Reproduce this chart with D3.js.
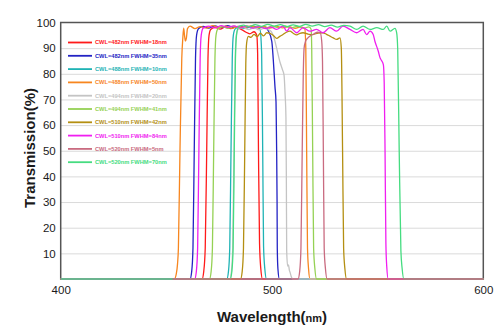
<!DOCTYPE html>
<html><head><meta charset="utf-8">
<script src="https://cdn.jsdelivr.net/npm/d3@7"></script>
<style>
html,body{margin:0;padding:0;background:#fff;}
svg{display:block;}
</style></head>
<body>
<svg id="chart" width="500" height="334"></svg>
<script>
// ---- data (wavelength nm, transmission %) ----
const xTicks = [400, 500, 600];
const yTicks = [10, 20, 30, 40, 50, 60, 70, 80, 90, 100];
const legendLabels = [
  "CWL=482nm FWHM=18nm","CWL=482nm FWHM=35nm","CWL=488nm FWHM=10nm","CWL=488nm FWHM=50nm",
  "CWL=494nm FWHM=20nm","CWL=494nm FWHM=41nm","CWL=510nm FWHM=42nm","CWL=510nm FWHM=84nm",
  "CWL=520nm FWHM=5nm","CWL=520nm FWHM=70nm"
];
const colors = ["#ff1a1a","#2323c4","#1fb3b5","#f7861f","#c4c4c4","#95d154","#b48f12","#f01ef0","#c96b80","#45dc80"];

const s482_18 = [[400,0],[466.9,0],[467.7,3],[468.4,12],[469.1,50],[469.7,86],[470.2,95],[471,97.3],[473,98.1],[475.5,97.4],[478,98.3],[480.5,97.6],[483,98.4],[485.5,97.3],[487.5,96.3],[489.5,95.6],[491.5,96.4],[492.8,95],[493.2,88],[493.6,50],[494.1,14],[494.7,4],[495.5,0],[600,0]];
const s482_35 = [[400,0],[461.2,0],[462.0,3],[462.6,12],[463.2,50],[463.8,86],[464.3,95],[465.2,97.6],[467.5,98.5],[470,97.8],[473,98.7],[476,98],[479,98.8],[482,98.1],[485,98.6],[488,97.9],[491,98.6],[494,98],[496.5,98.3],[498.1,97],[499.9,92.6],[500.6,85.6],[501.4,75],[501.9,69],[502.05,60],[502.2,50],[502.4,30],[502.5,12],[502.8,4],[503.5,0],[600,0]];
const s488_10 = [[400,0],[478.6,0],[479.4,3],[480.0,12],[480.6,50],[481.2,86],[481.7,95],[482.6,97.5],[484.5,98.3],[486.5,97.6],[488.5,98.4],[490.5,97.7],[492.5,98.2],[494.3,97.4],[495.1,88],[495.6,50],[496.0,13],[496.6,4],[497.4,0],[600,0]];
const s488_50 = [[400,0],[453.8,0],[454.7,2],[455.3,6],[455.7,12],[456.45,50],[457.3,86],[457.8,94],[458.2,97.8],[458.6,95],[459.0,92.8],[459.5,94],[460.0,97.6],[461.2,98.6],[463.5,97.6],[466,98.4],[469,97.8],[472,98.8],[475,98],[478,98.6],[481,97.7],[484,98.5],[487,98],[490,98.7],[493,97.9],[496,98.5],[499,97.8],[502,98.6],[505,97.9],[508,98.4],[511,97.7],[513.5,98.3],[515.5,97.6],[516.0,90],[516.4,50],[516.8,12],[517.3,4],[518.0,0],[600,0]];
const s494_20 = [[400,0],[480.0,0],[480.8,3],[481.4,12],[482.0,50],[482.6,86],[483.1,95],[484.0,97.3],[486.5,98],[489,97.2],[491.5,97.9],[494,97.1],[496.5,97.8],[498.5,97.2],[499.6,96.5],[500.8,94.5],[502.2,90],[503.8,84.5],[505.0,81.5],[505.7,79.5],[506.2,72],[506.6,63],[506.8,38],[506.95,11],[507.4,5],[507.8,5.5],[508.2,3.5],[508.6,2.5],[509.1,1],[509.8,0],[600,0]];
const s494_41 = [[400,0],[470.4,0],[471.2,3],[471.8,12],[472.4,50],[473.0,86],[473.5,95],[474.4,97.6],[476.5,98.4],[479,97.7],[482,98.6],[485,97.9],[488,98.7],[491,98],[494,98.5],[497,97.8],[500,98.6],[503,98],[506,98.7],[509,97.9],[512,98.5],[515,97.8],[517.5,98.3],[518.5,97.4],[518.8,90],[519.25,50],[519.7,12],[520.3,4],[521.1,0],[600,0]];
const s510_42 = [[400,0],[485.1,0],[485.9,3],[486.5,12],[487.1,50],[487.6,84],[488.0,92],[488.8,94.6],[490,94.2],[491.5,95.4],[493,94.5],[494.5,95.8],[496,94.8],[497.5,96],[499.1,95.8],[500.8,94.8],[502.2,93.8],[503.7,94.6],[505.2,95.3],[506.8,96.2],[508.5,96.6],[510,95.8],[511.7,95.2],[513.2,95.8],[514.7,96],[517,95.5],[519.4,95.3],[521.8,95.9],[524.1,96],[525.8,95.4],[527.4,94.7],[529,94],[530.6,93.4],[532.2,94],[532.8,90],[533.4,50],[533.9,12],[534.5,4],[535.3,0],[600,0]];
const s510_84 = [[400,0],[463.4,0],[464.2,3],[464.8,12],[465.4,50],[466.0,86],[466.5,95],[467.4,97.8],[470,98.6],[473,97.9],[476,98.8],[479,98.1],[482,98.7],[485,97.9],[488,98.6],[491,97.8],[494,98.5],[497,97.6],[499.5,98.2],[502.2,97.3],[505.2,98.6],[507,96.6],[508.5,98],[511.7,96],[514.7,98],[517.9,96.6],[521.1,97.3],[524.1,96],[527.4,98],[530.6,96.6],[533.6,98.6],[536.9,97.3],[540.1,96],[543.1,97.3],[544.8,95.3],[546.4,96.6],[547.9,95.3],[548.7,92.7],[550.3,88.8],[551.1,86.3],[551.6,85.5],[552.7,83.6],[553.1,76.6],[553.5,50],[553.9,14],[554.3,5],[555,0],[600,0]];
const s520_5 = [[453,0],[512.3,0],[513.1,3],[513.7,12],[514.3,50],[514.8,80],[515.2,90],[515.8,92.5],[517,94],[518.5,95],[520,95.6],[521.5,96.2],[522.8,96],[523.5,93],[523.9,85],[524.3,50],[524.7,12],[525.3,4],[526.1,0],[600,0]];
const s520_70 = [[400,0],[480.2,0],[481.0,3],[481.6,12],[482.15,50],[482.7,86],[483.2,95],[484.1,98.2],[486.5,99],[489,98.3],[492,99.2],[495,98.5],[498,99.3],[501,98.6],[504,99.2],[507,98.4],[510,99.1],[513,98.5],[516,99.3],[519,98.6],[522,99.2],[525,98.4],[528,99],[531,98.2],[534,98.9],[536.9,98.6],[540.1,97.3],[543.1,98.6],[546.4,97.3],[549.6,98],[552.7,97.3],[554.3,98.6],[555.9,96.6],[558.2,97.7],[559.0,96],[559.5,89.5],[560.2,50],[561.0,11],[561.6,4],[562.4,0],[600,0]];

const seriesData = [s482_18, s482_35, s488_10, s488_50, s494_20, s494_41, s510_42, s510_84, s520_5, s520_70];
const drawOrder = [0,1,2,3,4,5,6,7,9,8];

// ---- layout ----
const L = 60.7, R = 483.3, T = 22.5, B = 279;
const svg = d3.select("#chart");
const x = d3.scaleLinear().domain([400, 600]).range([L, R]);
const y = d3.scaleLinear().domain([0, 100]).range([B, T]);

// grid
const grid = svg.append("g").attr("transform", `translate(${L},0)`)
  .call(d3.axisLeft(y).tickValues(yTicks.filter(v => v < 100)).tickSize(-(R - L)).tickFormat(""));
grid.select(".domain").remove();
grid.selectAll(".tick line").attr("stroke", "#dadada").attr("stroke-width", 1);

// y labels
const ya = svg.append("g").attr("transform", `translate(${L},0)`)
  .call(d3.axisLeft(y).tickValues(yTicks).tickSize(0).tickPadding(5));
ya.select(".domain").remove();
ya.selectAll("text").attr("font-family", "Liberation Sans, Arial, sans-serif").attr("font-size", 11.5).attr("fill", "#1a1a1a");

// x labels
const xa = svg.append("g").attr("transform", `translate(0,${B})`)
  .call(d3.axisBottom(x).tickValues(xTicks).tickSize(0).tickPadding(7).tickFormat(d3.format("d")));
xa.select(".domain").remove();
xa.selectAll("text").attr("font-family", "Liberation Sans, Arial, sans-serif").attr("font-size", 11.5).attr("fill", "#1a1a1a");

// frame
svg.append("rect").attr("x", L).attr("y", T).attr("width", R - L).attr("height", B - T)
  .attr("fill", "none").attr("stroke", "#555").attr("stroke-width", 1.5);

// curves
const line = d3.line().x(d => x(d[0])).y(d => y(d[1])).curve(d3.curveMonotoneX);
drawOrder.forEach(i => {
  svg.append("path").datum(seriesData[i]).attr("d", line)
    .attr("fill", "none").attr("stroke", colors[i]).attr("stroke-width", 1.3)
    .attr("stroke-linejoin", "round");
});

// legend
const lg = svg.append("g");
legendLabels.forEach((lab, i) => {
  const yy = 42.5 + i * 13.3;
  lg.append("line").attr("x1", 68).attr("x2", 92).attr("y1", yy).attr("y2", yy)
    .attr("stroke", colors[i]).attr("stroke-width", 1.8);
  lg.append("text").attr("x", 95).attr("y", yy).attr("dy", "0.35em")
    .attr("font-family", "Liberation Sans, Arial, sans-serif").attr("font-size", 5.7)
    .attr("font-weight", "bold").attr("fill", colors[i]).text(lab);
});

// titles
svg.append("text").attr("transform", "translate(30,148) rotate(-90)")
  .attr("text-anchor", "middle").attr("dy", "0.35em")
  .attr("font-family", "Liberation Sans, Arial, sans-serif").attr("font-weight", "bold")
  .attr("font-size", 15).attr("fill", "#1a1a1a").text("Transmission(%)");
const xt = svg.append("text").attr("x", 272).attr("y", 322).attr("text-anchor", "middle")
  .attr("font-family", "Liberation Sans, Arial, sans-serif").attr("font-weight", "bold")
  .attr("font-size", 15).attr("fill", "#1a1a1a");
xt.append("tspan").text("Wavelength(");
xt.append("tspan").attr("font-size", 11).text("nm");
xt.append("tspan").text(")");
</script>
</body></html>
